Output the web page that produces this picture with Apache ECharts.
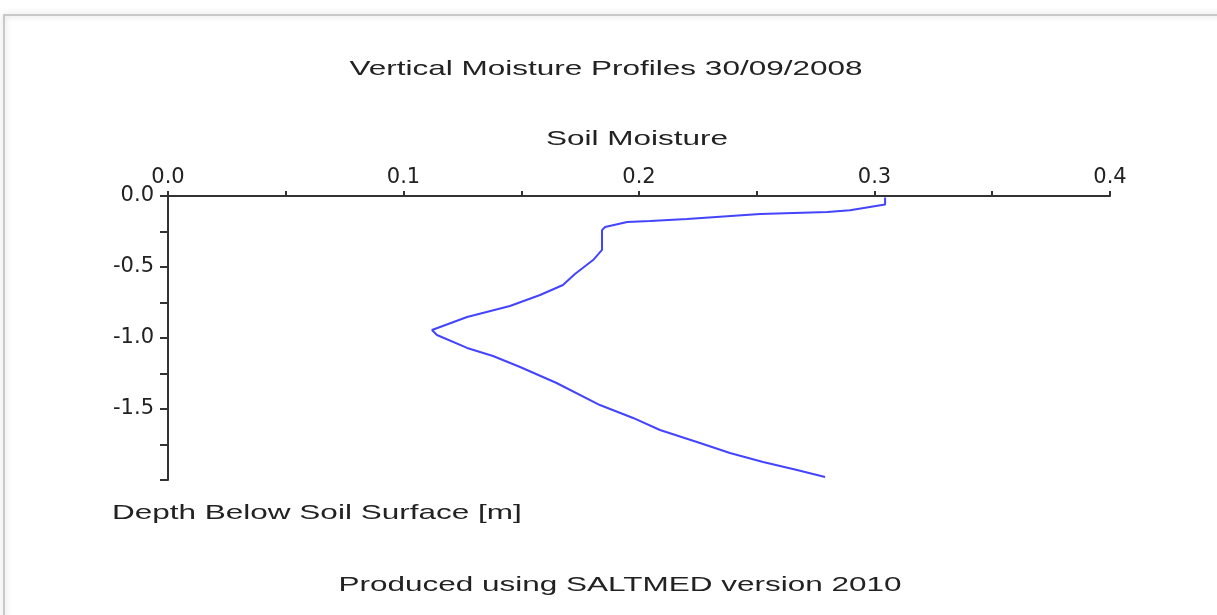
<!DOCTYPE html>
<html>
<head>
<meta charset="utf-8">
<script src="https://cdn.jsdelivr.net/npm/echarts@6/dist/echarts.min.js"></script>
<style>
  html, body { margin: 0; padding: 0; background: #fff; }
  #mChart { width: 1217px; height: 615px; }
</style>
</head>
<body>
<div id="mChart"></div>
<script>
// soil moisture (x) against depth (y)
var moisture = [0.3045, 0.3045, 0.2896, 0.280, 0.2514, 0.2204, 0.2047, 0.195, 0.1856, 0.1843,
  0.1843, 0.1805, 0.1728, 0.1677, 0.158, 0.1452, 0.127, 0.1121, 0.1142, 0.127,
  0.138, 0.1495, 0.165, 0.1834, 0.1975, 0.2089, 0.2259, 0.2386, 0.2527, 0.2671, 0.279];
var depth = [-0.01, -0.06, -0.10, -0.113, -0.127, -0.162, -0.176, -0.183, -0.218, -0.24,
  -0.38, -0.451, -0.549, -0.627, -0.697, -0.775, -0.852, -0.944, -0.979, -1.07,
  -1.127, -1.204, -1.317, -1.472, -1.563, -1.648, -1.739, -1.81, -1.873, -1.93, -1.979];
var xTicks = { min: 0, max: 0.4, step: 0.05 };
var yTicks = { min: -2, max: 0, step: 0.25 };

var titleText = 'Vertical Moisture Profiles 30/09/2008';
var xName = 'Soil Moisture';
var yName = 'Depth Below Soil Surface [m]';
var footer = 'Produced using SALTMED version 2010';

var points = moisture.map(function (m, i) { return [m, depth[i]]; });

function isHalf(v, s) {
  var k = v / s;
  return Math.abs(k - Math.round(k)) < 1e-6;
}

var axisCol = '#333';
var labelFont = { color: '#222', fontFamily: 'DejaVu Sans', fontSize: 21 };
var txt = function (t, x, y, align) {
  return {
    type: 'text', x: x, y: y, scaleX: 1.5,
    style: { text: t, textAlign: align, textVerticalAlign: 'middle',
      font: '21px "Liberation Sans"', fill: '#222' }
  };
};

var myChart = echarts.init(document.getElementById('mChart'));
myChart.setOption({
  backgroundColor: '#fff',
  animation: false,
  grid: { left: 168, right: 107, top: 196, bottom: 135 },
  graphic: [
    { type: 'rect', shape: { x: 4, y: 15, width: 1300, height: 700 },
      style: { fill: 'none', stroke: '#bbb', lineWidth: 1.5, shadowBlur: 6, shadowColor: 'rgba(0,0,0,0.25)' } },
    txt(titleText, 606, 69, 'center'),
    txt(xName, 637, 139, 'center'),
    txt(yName, 112, 513, 'left'),
    txt(footer, 620, 585, 'center')
  ],
  xAxis: {
    type: 'value', position: 'top',
    min: xTicks.min, max: xTicks.max, interval: xTicks.step,
    axisLine: { show: true, lineStyle: { color: axisCol, width: 2 } },
    axisTick: { show: true, length: 5, lineStyle: { color: axisCol, width: 2 } },
    axisLabel: Object.assign({ margin: 8, formatter: function (v) {
      return isHalf(v, 0.1) ? v.toFixed(1) : '';
    } }, labelFont),
    splitLine: { show: false }
  },
  yAxis: {
    type: 'value', position: 'left',
    min: yTicks.min, max: yTicks.max, interval: yTicks.step,
    axisLine: { show: true, lineStyle: { color: axisCol, width: 2 } },
    axisTick: { show: true, length: 8, lineStyle: { color: axisCol, width: 2 } },
    axisLabel: Object.assign({ margin: 14, formatter: function (v) {
      return (isHalf(v, 0.5) && v > -1.99) ? v.toFixed(1) : '';
    } }, labelFont),
    splitLine: { show: false }
  },
  series: [{
    type: 'line',
    data: points,
    showSymbol: false,
    lineStyle: { color: '#4444ff', width: 2 }
  }]
});
</script>
</body>
</html>
